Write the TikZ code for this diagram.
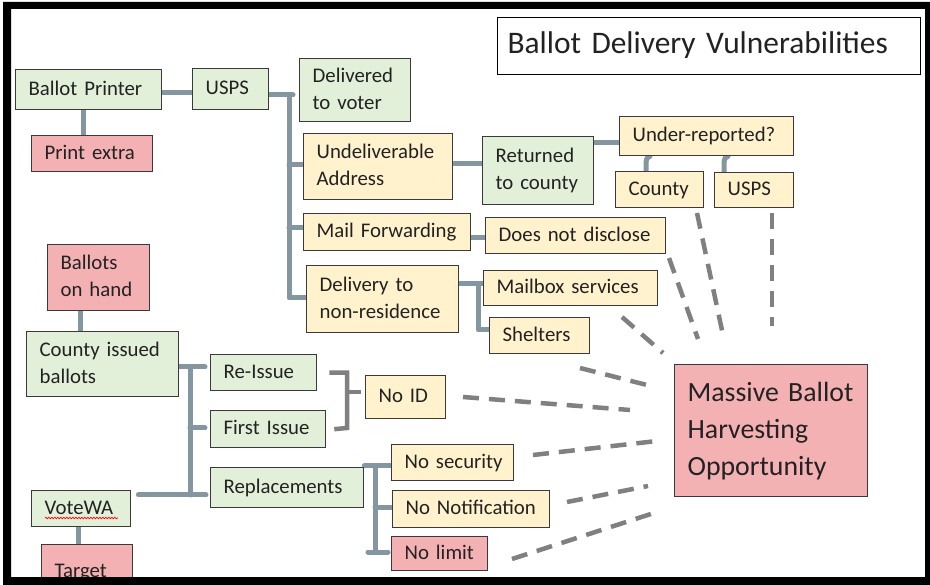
\documentclass[tikz,border=0pt]{standalone}
\usepackage{fontspec}
\setmainfont{Carlito}
\usetikzlibrary{calc,decorations.pathmorphing}
\pgfdeclarelayer{background}
\pgfdeclarelayer{canvas}
\pgfsetlayers{canvas,background,main}
\definecolor{gfill}{HTML}{E2F0D9}
\definecolor{yfill}{HTML}{FFF2CC}
\definecolor{pfill}{HTML}{F4B1B4}
\definecolor{bord}{HTML}{3A3A3A}
\definecolor{conncol}{HTML}{8497A0}
\definecolor{dashcol}{HTML}{808080}
\definecolor{txt}{HTML}{222222}
\newcommand\bxt[1]{\begin{tabular}{@{}l@{}}#1\end{tabular}}
\begin{document}
\begin{tikzpicture}[x=1pt,y=-1pt,
  box/.style={draw=bord, line width=1.3pt, anchor=north west, inner xsep=13pt, inner ysep=0pt, align=left, text=txt, font=\fontsize{20.8}{27}\selectfont},
  gbox/.style={box, fill=gfill},
  ybox/.style={box, fill=yfill},
  pbox/.style={box, fill=pfill},
  conn/.style={draw=conncol, line width=5pt, line cap=round, line join=round},
  brk/.style={draw=dashcol, line width=4.5pt, line cap=butt},
  dsh/.style={draw=dashcol, line width=4.5pt, dash pattern=on 16pt off 10pt}]
\useasboundingbox (0,0) rectangle (930,585);
\begin{pgfonlayer}{canvas}
\fill[white] (0,0) rectangle (930,585);
\end{pgfonlayer}

% title
\node[draw=black, line width=1pt, fill=white, anchor=north west, inner xsep=10pt, inner ysep=0pt, text width=403pt, minimum height=57pt, align=left, font=\fontsize{31.4}{38}\selectfont, text=txt] (title) at (497,17) {\bxt{Ballot Delivery Vulnerabilities}};

% boxes
\node[gbox, text width=120pt, minimum height=40pt] (bp) at (15,69) {\bxt{Ballot Printer}};
\node[pbox, text width=95pt, minimum height=36pt] (pe) at (31,135) {\bxt{Print extra}};
\node[gbox, text width=50pt, minimum height=41pt] (usps) at (192,68) {\bxt{USPS}};
\node[gbox, text width=85pt, minimum height=63pt] (dtv) at (299,58) {\bxt{Delivered\\to voter}};
\node[ybox, text width=123pt, minimum height=66pt] (ua) at (303,133) {\bxt{Undeliverable\\Address}};
\node[ybox, text width=141pt, minimum height=37pt] (mf) at (303,213) {\bxt{Mail Forwarding}};
\node[ybox, text width=126pt, minimum height=67pt] (dnr) at (306,265) {\bxt{Delivery to\\non-residence}};
\node[gbox, text width=85pt, minimum height=68pt] (rtc) at (482,136) {\bxt{Returned\\to county}};
\node[ybox, text width=148pt, minimum height=39pt] (ur) at (619,116) {\bxt{Under-reported?}};
\node[ybox, text width=62pt, minimum height=36pt] (cty) at (615,171) {\bxt{County}};
\node[ybox, text width=53pt, minimum height=35pt] (usps2) at (714,172) {\bxt{USPS}};
\node[ybox, text width=154pt, minimum height=36pt] (dnd) at (485,217) {\bxt{Does not disclose}};
\node[ybox, text width=148pt, minimum height=35pt] (mbs) at (483,270) {\bxt{Mailbox services}};
\node[ybox, text width=74pt, minimum height=36pt] (sh) at (489,317) {\bxt{Shelters}};
\node[pbox, font=\fontsize{27.8}{37}\selectfont, text width=167pt, minimum height=132pt] (mbh) at (674,364) {\bxt{Massive Ballot\\Harvesting\\Opportunity}};
\node[pbox, text width=76pt, minimum height=66pt] (boh) at (47,244) {\bxt{Ballots\\on hand}};
\node[gbox, text width=126pt, minimum height=65pt] (cib) at (26,331) {\bxt{County issued\\ballots}};
\node[gbox, text width=80pt, minimum height=36pt] (ri) at (210,354) {\bxt{Re-Issue}};
\node[gbox, text width=89pt, minimum height=37pt] (fi) at (210,410) {\bxt{First Issue}};
\node[gbox, text width=127pt, minimum height=40pt] (rep) at (210,467) {\bxt{Replacements}};
\node[gbox, text width=73pt, minimum height=36pt] (vwa) at (31,490) {\bxt{VoteWA}};
\node[pbox, text width=65pt, minimum height=54pt] (tgt) at (41,544) {\bxt{Target}};
\node[ybox, text width=54pt, minimum height=43pt] (noid) at (365,375) {\bxt{No ID}};
\node[ybox, text width=96pt, minimum height=36pt] (nsec) at (391,444) {\bxt{No security}};
\node[ybox, text width=131pt, minimum height=37pt] (nnot) at (392,490) {\bxt{No Notification}};
\node[pbox, text width=70pt, minimum height=34pt] (nlim) at (391,536) {\bxt{No limit}};

% spell-check underline
\draw[red, line width=0.7pt, decorate, decoration={snake, segment length=3pt, amplitude=0.8pt}] (45,518) -- (118,518);

% connectors
\begin{pgfonlayer}{background}
\draw[conn] (bp.east |- 0,93) -- (usps.west |- 0,93);
\draw[conn] (bp.south -| 83,0) -- (pe.north -| 83,0);
\draw[conn] (usps.east |- 0,95) -- (293,95);
\draw[conn] (289,95) -- (289,298) -- (dnr.west |- 0,298);
\draw[conn] (289,165) -- (ua.west |- 0,165);
\draw[conn] (289,228) -- (mf.west |- 0,228);
\draw[conn] (ua.east |- 0,164) -- (rtc.west |- 0,164);
\draw[conn] (rtc.east |- 0,143) -- (ur.west |- 0,143);
\draw[conn] (ur.south -| 650,0) to[out=180,in=90] (646,162) -- (cty.north -| 646,0);
\draw[conn] (ur.south -| 728,0) to[out=180,in=90] (724,162) -- (usps2.north -| 724,0);
\draw[conn] (mf.east |- 0,238) -- (dnd.west |- 0,238);
\draw[conn] (dnr.east |- 0,284) -- (mbs.west |- 0,284);
\draw[conn] (478,284) |- (sh.west |- 0,330);
\draw[conn] (boh.south -| 80,0) -- (cib.north -| 80,0);
\draw[conn, shorten >=5pt] (cib.east |- 0,367) -- (ri.west |- 0,367);
\draw[conn] (190,367) -- (190,495);
\draw[conn, shorten <=7pt, shorten >=4pt] (vwa.east |- 0,495) -- (rep.west |- 0,495);
\draw[conn, shorten >=5pt] (190,428) -- (fi.west |- 0,428);
\draw[conn] (rep.east |- 0,466) -- (nsec.west |- 0,466);
\draw[conn] (375,466) -- (375,552);
\draw[conn] (375,507) -- (nnot.west |- 0,507);
\draw[conn, shorten <=-7pt, shorten >=3pt] (375,552) -- (nlim.west |- 0,552);
\draw[conn] (vwa.south -| 78,0) -- (tgt.north -| 78,0);
\end{pgfonlayer}

% bracket to No ID
\draw[brk] ([xshift=12pt]ri.east) -| (347,428) -- ([xshift=8pt]fi.east);
\draw[brk, shorten >=4pt] (347,392) -- (noid.west |- 0,392);

% dashed lines toward the opportunity box
\coordinate (d1a) at (697,213); \coordinate (d1b) at (723,335);
\coordinate (d2a) at (772,213); \coordinate (d2b) at (772,326);
\coordinate (d3a) at (669,258); \coordinate (d3b) at (698,339);
\coordinate (d4a) at (622,317); \coordinate (d4b) at (663,353);
\coordinate (d5a) at (580,368); \coordinate (d5b) at (647,385);
\coordinate (d6a) at (463,397); \coordinate (d6b) at (630,410);
\coordinate (d7a) at (533,455); \coordinate (d7b) at (657,441);
\coordinate (d8a) at (567,502); \coordinate (d8b) at (648,486);
\coordinate (d9a) at (512,559); \coordinate (d9b) at (657,512);
\foreach \i in {1,...,9} {\draw[dsh] (d\i a) -- (d\i b);}

% frame
\fill[black, even odd rule] (3,2) rectangle (930,585) (11,9) rectangle (925,577);
\end{tikzpicture}
\end{document}
